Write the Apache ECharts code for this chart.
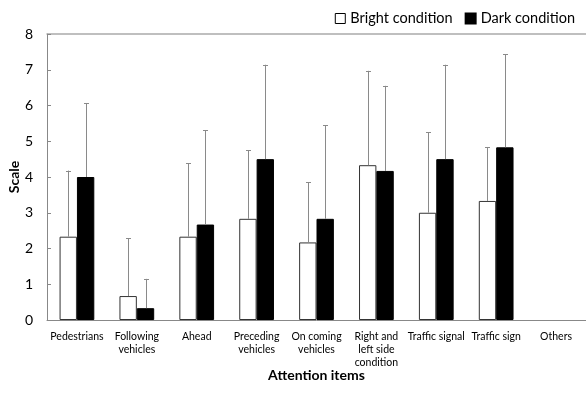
<!DOCTYPE html>
<html><head><meta charset="utf-8">
<script src="https://cdn.jsdelivr.net/npm/echarts@6/dist/echarts.min.js"></script>
<style>html,body{margin:0;padding:0;background:#fff}#c{width:586px;height:396px}</style>
</head><body><div id="c"></div>
<script>
const categories = ["Pedestrians","Following\nvehicles","Ahead","Preceding\nvehicles","On coming\nvehicles","Right and\nleft side\ncondition","Traffic signal","Traffic sign","Others"];
const brightValues = [2.33,0.67,2.33,2.83,2.17,4.33,3.0,3.33,0];
const brightErrTop = [4.18,2.29,4.38,4.75,3.86,6.97,5.25,4.84,null];
const darkValues = [4.0,0.33,2.67,4.5,2.83,4.17,4.5,4.83,0];
const darkErrTop = [6.07,1.15,5.31,7.14,5.45,6.55,7.14,7.44,null];
const yTicks = [0,1,2,3,4,5,6,7,8];

const FONT = 'Lato, "Open Sans", sans-serif';
const BAR_FRAC = 0.29;

function barData(vals){ return vals.map(v => v === 0 ? '-' : v); }
function errData(vals, tops, sign){
  const out = [];
  vals.forEach((v,i)=>{ if (tops[i] != null) out.push([i, v, tops[i], sign]); });
  return out;
}
function renderErr(params, api){
  const i = api.value(0), v = api.value(1), t = api.value(2), s = api.value(3);
  const band = api.size([1,0])[0];
  const off = s * band * BAR_FRAC / 2;
  const p0 = api.coord([i, v]), p1 = api.coord([i, t]);
  const x = Math.round(p0[0] + off) + 0.5;
  const style = {stroke:'#8a8a8a', lineWidth:1};
  return {type:'group', children:[
    {type:'line', shape:{x1:x,y1:p0[1],x2:x,y2:p1[1]}, style},
    {type:'line', shape:{x1:x-2.5,y1:Math.round(p1[1])+0.5,x2:x+2.5,y2:Math.round(p1[1])+0.5}, style}
  ]};
}

const chart = echarts.init(document.getElementById('c'));
chart.setOption({
  animation:false,
  textStyle:{fontFamily:FONT},
  legend:{
    right:6, top:6, itemWidth:10, itemHeight:10, itemGap:12,
    textStyle:{fontFamily:FONT, fontSize:14.5, color:'#000'},
    data:[
      {name:'Bright condition', icon:'rect', itemStyle:{color:'#fff', borderColor:'#000', borderWidth:1}},
      {name:'Dark condition', icon:'rect', itemStyle:{color:'#000'}}
    ]
  },
  grid:{left:47, right:0, top:34, bottom:76, containLabel:false, outerBoundsMode:'none'},
  xAxis:[{
    type:'category', data:categories,
    axisLine:{lineStyle:{color:'#888'}},
    axisTick:{inside:true, length:4, lineStyle:{color:'#888'}},
    axisLabel:{interval:0, color:'#000', fontSize:10.5, lineHeight:13, margin:10, fontFamily:FONT},
    name:'Attention items', nameLocation:'middle', nameGap:48, nameMoveOverlap:false,
    nameTextStyle:{fontFamily:FONT, fontSize:14, fontWeight:'bold', color:'#000'}
  },{
    type:'category', data:categories, position:'top',
    axisLine:{lineStyle:{color:'#aaa', width:1.5}}, axisTick:{show:false}, axisLabel:{show:false}
  }],
  yAxis:{
    type:'value', min:yTicks[0], max:yTicks[yTicks.length-1], interval:1,
    splitLine:{show:false},
    axisLine:{show:true, lineStyle:{color:'#888'}},
    axisTick:{show:true, inside:true, length:4, lineStyle:{color:'#888'}},
    axisLabel:{color:'#000', fontSize:14, margin:14, fontFamily:FONT},
    name:'Scale', nameLocation:'middle', nameGap:26, nameMoveOverlap:false,
    nameTextStyle:{fontFamily:FONT, fontSize:14, fontWeight:'bold', color:'#000'}
  },
  series:[
    {name:'Bright condition', type:'bar', data:barData(brightValues), barWidth:(BAR_FRAC*100)+'%', barGap:'0%',
     itemStyle:{color:'#fff', borderColor:'#333', borderWidth:1}},
    {name:'Dark condition', type:'bar', data:barData(darkValues), barWidth:(BAR_FRAC*100)+'%', barGap:'0%',
     itemStyle:{color:'#000', borderColor:'#000', borderWidth:1}},
    {type:'custom', renderItem:renderErr, data:errData(brightValues, brightErrTop, -1), z:5, silent:true},
    {type:'custom', renderItem:renderErr, data:errData(darkValues, darkErrTop, 1), z:5, silent:true}
  ]
});
</script></body></html>
